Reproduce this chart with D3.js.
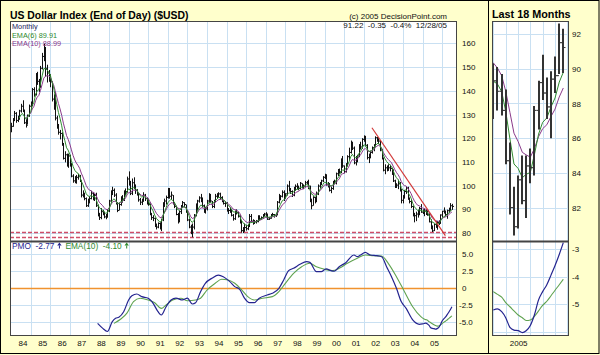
<!DOCTYPE html>
<html>
<head>
<meta charset="utf-8">
<script src="https://cdn.jsdelivr.net/npm/d3@7/dist/d3.min.js"></script>
<style>
  html, body { margin:0; padding:0; background:#ffffcc; }
  svg { display:block; }
  text { font-family: "Liberation Sans", Arial, sans-serif; }
</style>
</head>
<body>
<svg id="chart" width="600" height="355"></svg>
<script>
// ---------------- DATA ----------------
// Monthly bars, first bar = June 1983, last bar = December 2005
const firstBar = "1983-06";
const closes = [
  125.0,127.8,130.5,127.5,128.2,131.5,133.5,
  131.8,126.5,125.5,129.5,133.5,134.0,140.5,138.5,146.5,144.0,141.5,149.5,
  154.5,157.0,149.5,147.5,146.0,143.8,136.5,136.0,128.5,125.0,122.5,122.0,
  117.5,111.5,113.0,108.5,112.5,108.5,104.0,102.0,102.5,103.5,104.0,102.0,
  96.0,96.5,94.5,91.5,93.5,94.5,96.8,94.5,95.8,91.5,87.5,86.5,
  89.0,88.5,86.8,86.8,89.3,93.5,97.2,98.0,96.0,92.5,89.5,92.0,
  94.8,94.0,97.5,97.5,102.8,101.5,96.8,101.2,99.5,98.0,96.5,94.0,
  93.0,93.5,96.0,94.5,93.0,92.0,88.0,86.5,86.2,83.0,82.5,84.0,
  82.5,85.5,92.5,93.5,95.0,98.0,95.5,96.0,92.5,91.2,87.8,85.8,
  89.0,91.0,92.8,92.0,89.5,85.5,82.5,80.0,82.5,87.5,91.5,93.5,
  94.8,94.5,91.5,89.0,90.2,93.5,96.0,93.5,91.2,93.5,95.5,96.2,
  96.5,95.0,93.5,92.5,92.5,89.8,89.5,89.6,87.5,86.0,88.8,88.7,
  87.0,84.8,81.0,81.5,82.3,81.8,82.8,87.0,85.0,84.5,84.8,84.8,
  86.8,86.0,86.5,87.5,88.0,88.0,85.8,86.2,87.6,87.8,87.5,87.7,
  93.0,95.0,95.5,97.2,94.8,96.5,99.8,98.5,97.5,96.0,98.8,99.7,
  99.5,98.8,101.0,99.3,99.8,101.2,101.5,99.8,93.8,91.5,95.0,94.2,
  96.5,99.8,100.8,102.0,103.5,104.2,100.3,100.8,98.0,98.8,101.5,101.9,
  105.0,106.2,105.8,111.0,108.3,106.0,108.5,112.2,114.0,117.5,115.8,109.6,
  110.8,112.5,117.2,116.3,119.5,120.5,117.0,111.8,112.0,114.0,116.0,116.8,
  120.2,119.6,118.8,115.0,111.5,106.5,107.5,107.2,107.5,107.2,106.5,102.0,
  100.0,100.2,100.8,98.2,93.8,95.2,97.5,99.0,94.5,93.3,91.2,87.4,
  87.3,88.0,88.0,90.3,88.8,88.7,89.3,88.7,87.6,84.7,82.0,80.9,
  83.6,82.4,84.4,84.3,87.6,89.2,88.6,87.8,89.4,89.6,91.5,91.22
];
const highs = [
  126.5,128.5,131.5,131.0,129.5,132.0,134.5,
  136.0,132.0,128.0,130.0,134.2,135.5,141.2,141.5,147.5,148.0,145.0,150.5,
  156.0,159.8,158.5,151.0,148.8,147.0,144.0,138.5,139.5,129.5,126.0,123.5,
  122.5,118.0,114.5,113.5,113.5,113.0,109.5,104.8,104.0,104.5,105.0,104.5,
  102.0,98.0,97.0,95.0,94.5,95.5,97.8,97.2,96.5,97.0,92.0,88.5,
  90.5,89.8,89.0,88.0,90.0,94.0,98.0,99.5,98.8,96.8,93.0,92.8,
  95.5,96.0,98.0,98.8,103.8,106.0,102.0,103.0,103.5,100.5,98.5,96.8,
  94.8,94.5,97.2,96.5,95.0,94.5,92.5,88.5,87.5,86.5,84.0,84.5,
  84.5,86.0,93.0,94.5,95.8,99.0,99.0,97.5,96.0,93.0,91.5,88.5,
  89.5,91.8,93.5,93.0,92.0,89.5,86.0,83.5,84.0,88.0,92.5,94.0,
  95.5,96.5,95.0,92.0,91.0,94.0,96.8,96.5,93.5,94.0,96.5,96.8,
  97.2,97.0,95.5,94.0,93.5,93.0,90.5,90.8,90.0,88.0,89.5,90.0,
  89.0,87.5,85.5,82.5,84.0,83.5,83.5,88.0,88.0,85.8,85.5,85.5,
  87.5,87.5,87.0,88.0,88.5,88.8,88.0,86.8,88.0,88.5,88.0,88.5,
  93.5,96.5,96.0,98.0,98.0,96.8,100.5,102.0,99.0,98.0,99.5,100.5,
  101.0,100.0,101.5,101.0,100.5,102.0,102.0,102.5,100.0,94.5,95.5,95.2,
  97.5,100.5,101.5,102.5,104.0,105.0,104.8,101.5,101.0,99.5,102.0,102.5,
  105.5,107.0,107.2,111.5,112.5,108.5,109.5,112.8,116.0,119.0,118.5,116.5,
  112.5,113.0,117.5,118.5,120.0,121.2,121.0,117.5,113.5,114.8,116.5,117.5,
  120.8,120.5,120.0,119.2,115.5,111.8,109.0,108.5,109.0,108.8,107.5,106.8,
  102.5,101.0,102.5,101.5,98.5,96.0,98.2,99.5,99.5,95.0,94.0,91.5,
  88.5,89.0,89.8,91.0,92.2,90.0,90.3,90.1,89.7,88.8,85.75,83.2,
  83.85,85.0,85.0,85.4,87.85,89.3,90.8,89.5,89.85,90.7,92.6,92.3
];
const lows = [
  122.5,124.8,127.2,126.5,126.8,127.8,130.8,
  131.0,126.0,124.5,125.8,129.0,131.8,133.5,137.5,138.0,142.5,139.5,141.5,
  149.0,152.5,146.0,143.5,143.8,141.5,135.5,132.0,127.5,124.0,121.5,119.5,
  116.8,111.0,109.8,108.0,107.5,108.0,103.5,101.2,101.0,100.8,102.5,101.5,
  95.0,95.0,93.8,91.0,91.0,92.5,94.2,93.8,93.5,91.0,87.0,85.5,
  85.8,87.5,86.2,85.8,86.5,88.8,92.8,96.0,95.2,92.0,88.8,89.5,
  91.5,92.8,93.5,96.0,97.0,100.0,96.0,96.0,98.5,96.5,95.8,93.2,
  91.8,91.8,93.2,93.5,92.0,91.5,87.5,85.5,85.0,82.5,81.5,82.0,
  81.5,80.8,85.0,91.0,92.0,94.5,94.5,94.0,92.0,90.5,87.5,84.0,
  84.5,88.0,90.5,90.8,88.5,85.0,82.0,79.5,78.2,81.5,87.0,89.5,
  92.8,93.0,90.8,88.5,88.2,89.5,92.5,92.8,90.5,90.5,93.0,94.5,
  95.0,94.0,93.0,92.0,91.0,89.0,88.0,88.5,87.0,85.2,85.5,87.8,
  86.5,84.0,80.2,80.0,80.5,81.0,81.2,82.5,84.5,83.5,83.8,84.0,
  84.5,85.2,85.5,86.0,87.0,87.2,85.5,85.5,86.0,87.0,86.5,86.8,
  87.5,92.5,93.8,95.0,93.5,94.5,95.8,97.5,96.5,95.2,95.5,97.8,
  98.5,98.0,98.5,98.8,98.5,99.5,100.5,98.5,93.0,90.0,91.5,92.5,
  93.0,96.0,99.0,100.2,101.5,102.8,100.0,99.2,97.5,96.8,98.2,100.8,
  100.5,104.0,105.0,105.2,107.5,105.2,105.5,108.0,110.5,113.5,115.0,109.0,
  108.5,109.8,112.0,115.2,115.5,118.5,116.5,111.0,109.5,111.5,113.5,114.5,
  116.5,118.5,117.5,114.5,111.0,106.0,104.8,106.0,106.2,106.0,104.5,101.5,
  99.0,99.0,98.5,97.5,92.5,92.5,94.5,96.5,94.0,92.5,90.5,87.0,
  84.5,85.0,86.5,87.5,88.5,88.0,87.1,87.6,87.3,84.5,81.6,80.4,
  80.8,82.2,81.4,83.4,83.85,86.5,88.2,87.1,86.0,88.6,89.7,89.75
];
// opens of the last 18 bars (Jul 2004 - Dec 2005), shown in the side panel
const recentOpens = [88.8,89.3,88.7,87.6,84.7,82.0,80.9,83.6,82.4,84.4,84.3,87.6,89.2,88.6,87.8,89.4,89.6,91.5];

// PMO and its EMA(10) signal
const pmoPoints = [
  ["1987-11",-5.2],["1988-02",-5.9],["1988-05",-6.4],["1988-08",-4.95],["1988-10",-4.46],["1988-12",-4.3],
  ["1989-03",-3.5],["1989-06",-1.76],["1989-08",-1.13],["1989-11",-0.88],["1990-02",-1.27],["1990-06",-1.5],
  ["1990-09",-2.25],["1990-12",-3.48],["1991-02",-3.97],["1991-05",-2.75],["1991-08",-1.76],["1991-11",-1.5],
  ["1992-03",-1.76],["1992-06",-1.5],["1992-09",-2.35],["1992-11",-2.16],["1993-02",-0.54],["1993-05",0.69],
  ["1993-09",1.43],["1994-01",1.9],["1994-04",1.66],["1994-08",0.93],["1994-11",0.2],["1995-02",-0.2],
  ["1995-05",-1.5],["1995-08",-2.16],["1995-11",-2.16],["1996-02",-1.5],["1996-07",-1.03],["1996-10",-0.78],
  ["1997-02",-0.05],["1997-05",1.18],["1997-08",2.55],["1997-11",2.9],["1998-03",3.48],["1998-07",3.87],
  ["1998-09",3.77],["1999-01",2.4],["1999-04",2.4],["1999-07",2.8],["1999-10",2.55],["1999-12",2.46],
  ["2000-03",3.13],["2000-07",3.72],["2000-12",4.85],["2001-02",4.6],["2001-04",4.85],["2001-07",5.25],
  ["2001-10",4.85],["2002-02",4.75],["2002-05",4.6],["2002-08",3.13],["2002-11",1.66],["2003-02",-0.05],
  ["2003-05",-2.0],["2003-08",-3.0],["2003-12",-4.7],["2004-04",-5.34],
  ["2004-07",-5.22],["2004-08",-5.18],["2004-09",-5.28],["2004-10",-5.5],["2004-11",-5.85],["2004-12",-5.95],
  ["2005-01",-5.97],["2005-02",-6.04],["2005-03",-5.97],["2005-04",-5.78],["2005-05",-5.4],["2005-06",-4.85],
  ["2005-07",-4.55],["2005-08",-4.3],["2005-09",-3.95],["2005-10",-3.6],["2005-11",-3.2],["2005-12",-2.77]
];
const signalPoints = [
  ["1988-09",-5.2],["1989-01",-4.6],["1989-05",-3.7],["1989-09",-2.0],["1990-01",-1.5],["1990-06",-1.76],
  ["1990-10",-2.16],["1991-02",-3.0],["1991-05",-2.5],["1991-09",-1.76],["1992-02",-1.5],["1992-06",-1.87],
  ["1992-11",-1.76],["1993-02",-1.5],["1993-06",-0.3],["1993-11",0.69],["1994-03",1.28],["1994-07",1.18],
  ["1994-11",0.69],["1995-03",-0.2],["1995-07",-1.27],["1995-11",-1.76],["1996-04",-1.5],["1996-10",-1.27],
  ["1997-02",-0.54],["1997-06",0.69],["1997-11",2.16],["1998-04",3.13],["1998-09",3.63],["1999-01",3.13],
  ["1999-06",2.75],["1999-11",2.55],["2000-03",2.9],["2000-08",3.63],["2001-02",4.37],["2001-07",4.85],
  ["2001-12",4.75],["2002-05",4.7],["2002-09",3.63],["2003-02",1.66],["2003-07",-0.54],["2003-12",-2.75],
  ["2004-05",-4.2],
  ["2004-07",-4.55],["2004-08",-4.65],["2004-09",-4.75],["2004-10",-4.95],["2004-11",-5.1],["2004-12",-5.25],
  ["2005-01",-5.4],["2005-02",-5.5],["2005-03",-5.6],["2005-04",-5.58],["2005-05",-5.45],["2005-06",-5.25],
  ["2005-07",-5.05],["2005-08",-4.9],["2005-09",-4.7],["2005-10",-4.5],["2005-11",-4.3],["2005-12",-4.1]
];

// annotations
const trendDates = ["2001-11","2005-08"];
const trendValues = [124.4, 78.9];
const supportLevels = [80.4, 78.2];

// tick labels
const priceTicks = [80,90,100,110,120,130,140,150,160];
const pmoTicks = [5,2.5,0,-2.5,-5];
const pmoTickLabels = ["5.0","2.5","0","-2.5","-5.0"];
const yearTicks = ["84","85","86","87","88","89","90","91","92","93","94","95","96","97","98","99","00","01","02","03","04","05"];
const sideTicks = [82,84,86,88,90,92];
const sidePmoTicks = [-3,-4,-5];
const sidePmoTickLabels = ["-3","-4","-5"];
const sideYearLabel = "2005";

// texts
const titleText = "US Dollar Index (End of Day) ($USD)";
const copyrightText = "(c) 2005 DecisionPoint.com";
const lastQuoteText = "91.22  -0.35  -0.4%  12/28/05";
const periodText = "Monthly";
const ema6Text = "EMA(6) 89.91";
const ema10Text = "EMA(10) 88.99";
const pmoText = "PMO  -2.77";
const sigText = "EMA(10)  -4.10";
const sideTitle = "Last 18 Months";

// ---------------- HELPERS ----------------
const parseYM = d3.timeParse("%Y-%m");
const start = parseYM(firstBar);
const dates = closes.map((_, i) => d3.timeMonth.offset(start, i));
const N = closes.length;

function ema(vals, n) {
  const k = 2 / (n + 1);
  const out = new Array(vals.length).fill(null);
  let prev = d3.mean(vals.slice(0, n));
  out[n - 1] = prev;
  for (let i = n; i < vals.length; i++) { prev = vals[i] * k + prev * (1 - k); out[i] = prev; }
  return out;
}
const ema6 = ema(closes, 6);
const ema10 = ema(closes, 10);

// ---------------- LAYOUT ----------------
const C = { bg:"#ffffcc", grid:"#c9e0f2", frame:"#444", bar:"#111", green:"#2f8a2f", purple:"#8a3a8a",
            pmo:"#24248f", sig:"#5fa24f", zero:"#f0922e", trend:"#d23a3a", support:"#cf4e68" };
const P = { x0:10, x1:457, y0:21, y1:241, y2:336 };
const S = { x0:492, x1:569 };

const xMain = d3.scaleTime().domain([new Date(1984,0,1), new Date(2005,0,1)]).range([22.5, 434]);
const yMain = d3.scaleLinear().domain([80,160]).range([233,43.4]);
const yPmo  = d3.scaleLinear().domain([-5,5]).range([322,254]);
const xSide = d3.scaleTime().domain([new Date(2004,6,1), new Date(2005,11,1)]).range([493.3,563.3]);
const ySide = d3.scaleLinear().domain([82,92]).range([207.6,34]);
const ySidePmo = d3.scaleLinear().domain([-5,-3]).range([304,249]);

const svg = d3.select("#chart");
svg.append("rect").attr("x",0).attr("y",0).attr("width",600).attr("height",355).attr("fill",C.bg);

const defs = svg.append("defs");
function clip(id, x0, y0, x1, y1) {
  defs.append("clipPath").attr("id", id).append("rect")
    .attr("x", x0).attr("y", y0).attr("width", x1 - x0).attr("height", y1 - y0);
}
clip("cMain", P.x0, P.y0, P.x1, P.y1);
clip("cPmo", P.x0, P.y1, P.x1, P.y2);
clip("cSide", S.x0, P.y0, S.x1, P.y1);
clip("cSidePmo", S.x0, P.y1, S.x1, P.y2);

// plot backgrounds
[[P.x0,P.y0,P.x1,P.y2],[S.x0,P.y0,S.x1,P.y2]].forEach(r => {
  svg.append("rect").attr("x",r[0]).attr("y",r[1]).attr("width",r[2]-r[0]).attr("height",r[3]-r[1]).attr("fill","#fff");
});

const crisp = v => Math.round(v) + 0.5;

// ---------------- GRIDS ----------------
const grid = svg.append("g").attr("stroke", C.grid).attr("stroke-width", 1);
const yearDates = yearTicks.map((_, i) => new Date(1984 + i, 0, 1));
const gridDates = yearTicks.map((_, i) => new Date(1984 + i, 5, 1));
gridDates.forEach(d => {
  const x = crisp(xMain(d));
  grid.append("line").attr("x1",x).attr("x2",x).attr("y1",P.y0).attr("y2",P.y2);
});
priceTicks.forEach(v => {
  const y = crisp(yMain(v));
  grid.append("line").attr("x1",P.x0).attr("x2",P.x1).attr("y1",y).attr("y2",y);
});
pmoTicks.filter(v => v !== 0).forEach(v => {
  const y = crisp(yPmo(v));
  grid.append("line").attr("x1",P.x0).attr("x2",P.x1).attr("y1",y).attr("y2",y);
});
// side grid
const sideGridDates = [new Date(2004,6,1),new Date(2004,9,1),new Date(2005,0,1),new Date(2005,3,1),new Date(2005,6,1),new Date(2005,9,1),new Date(2006,0,1)];
sideGridDates.forEach(d => {
  const x = crisp(xSide(d));
  if (x < S.x1) grid.append("line").attr("x1",x).attr("x2",x).attr("y1",P.y0).attr("y2",P.y2);
});
sideTicks.forEach(v => {
  const y = crisp(ySide(v));
  grid.append("line").attr("x1",S.x0).attr("x2",S.x1).attr("y1",y).attr("y2",y);
});
[-3,-4,-5,-6].forEach(v => {
  const y = crisp(ySidePmo(v));
  grid.append("line").attr("x1",S.x0).attr("x2",S.x1).attr("y1",y).attr("y2",y);
});

// ---------------- MAIN PRICE PANEL ----------------
const gMain = svg.append("g").attr("clip-path","url(#cMain)");
// support lines
supportLevels.forEach(v => {
  gMain.append("line").attr("x1",P.x0).attr("x2",P.x1)
    .attr("y1",crisp(yMain(v))).attr("y2",crisp(yMain(v)))
    .attr("stroke",C.support).attr("stroke-width",1.3).attr("stroke-dasharray","4,2");
});
// bars
const idx = d3.range(N);
gMain.append("g").selectAll("line").data(idx).join("line")
  .attr("x1", i => crisp(xMain(dates[i]))).attr("x2", i => crisp(xMain(dates[i])))
  .attr("y1", i => yMain(highs[i])).attr("y2", i => yMain(lows[i]))
  .attr("stroke", C.bar).attr("stroke-width", 1);
gMain.append("g").selectAll("line").data(idx).join("line")
  .attr("x1", i => crisp(xMain(dates[i]))).attr("x2", i => crisp(xMain(dates[i])) + 1.5)
  .attr("y1", i => yMain(closes[i])).attr("y2", i => yMain(closes[i]))
  .attr("stroke", C.bar).attr("stroke-width", 1);
// EMAs
function drawEma(g, arr, color, xs, ys, from) {
  const pts = idx.filter(i => arr[i] !== null && i >= from);
  g.append("path").attr("fill","none").attr("stroke",color).attr("stroke-width",1)
    .attr("d", d3.line().x(i => xs(dates[i])).y(i => ys(arr[i]))(pts));
}
drawEma(gMain, ema10, C.purple, xMain, yMain, 0);
drawEma(gMain, ema6, C.green, xMain, yMain, 0);
// trendline
gMain.append("line")
  .attr("x1", xMain(parseYM(trendDates[0]))).attr("y1", yMain(trendValues[0]))
  .attr("x2", xMain(parseYM(trendDates[1]))).attr("y2", yMain(trendValues[1]))
  .attr("stroke", C.trend).attr("stroke-width", 1.2);

// ---------------- MAIN PMO PANEL ----------------
const gPmo = svg.append("g").attr("clip-path","url(#cPmo)");
gPmo.append("line").attr("x1",P.x0).attr("x2",P.x1).attr("y1",crisp(yPmo(0))).attr("y2",crisp(yPmo(0)))
  .attr("stroke",C.zero).attr("stroke-width",1.3);
const pmoLine = (xs, ys) => d3.line().curve(d3.curveMonotoneX).x(d => xs(parseYM(d[0]))).y(d => ys(d[1]));
gPmo.append("path").attr("fill","none").attr("stroke",C.sig).attr("stroke-width",1.1).attr("d", pmoLine(xMain,yPmo)(signalPoints));
gPmo.append("path").attr("fill","none").attr("stroke",C.pmo).attr("stroke-width",1.2).attr("d", pmoLine(xMain,yPmo)(pmoPoints));

// ---------------- SIDE PANEL ----------------
const gSide = svg.append("g").attr("clip-path","url(#cSide)");
const recent = d3.range(N - 18, N);
drawEma(gSide, ema10, C.purple, xSide, ySide, N - 19);
drawEma(gSide, ema6, C.green, xSide, ySide, N - 19);
gSide.append("g").selectAll("line").data(recent).join("line")
  .attr("x1", i => Math.round(xSide(dates[i]))).attr("x2", i => Math.round(xSide(dates[i])))
  .attr("y1", i => ySide(highs[i])).attr("y2", i => ySide(lows[i]))
  .attr("stroke", "#333").attr("stroke-width", 2);
gSide.append("g").selectAll("line").data(recent).join("line")
  .attr("x1", i => Math.round(xSide(dates[i])) - 2.5).attr("x2", i => Math.round(xSide(dates[i])))
  .attr("y1", i => ySide(recentOpens[i - (N - 18)])).attr("y2", i => ySide(recentOpens[i - (N - 18)]))
  .attr("stroke", "#333").attr("stroke-width", 1);
gSide.append("g").selectAll("line").data(recent).join("line")
  .attr("x1", i => Math.round(xSide(dates[i]))).attr("x2", i => Math.round(xSide(dates[i])) + 2.5)
  .attr("y1", i => ySide(closes[i])).attr("y2", i => ySide(closes[i]))
  .attr("stroke", "#333").attr("stroke-width", 1);

const gSidePmo = svg.append("g").attr("clip-path","url(#cSidePmo)");
const recentCut = parseYM("2004-06");
gSidePmo.append("path").attr("fill","none").attr("stroke",C.sig).attr("stroke-width",1.1)
  .attr("d", pmoLine(xSide,ySidePmo)(signalPoints.filter(d => parseYM(d[0]) >= recentCut)));
gSidePmo.append("path").attr("fill","none").attr("stroke",C.pmo).attr("stroke-width",1.2)
  .attr("d", pmoLine(xSide,ySidePmo)(pmoPoints.filter(d => parseYM(d[0]) >= recentCut)));

// ---------------- FRAMES ----------------
const fr = svg.append("g").attr("fill","none").attr("stroke",C.frame);
fr.append("rect").attr("x",P.x0+0.5).attr("y",P.y0+0.5).attr("width",P.x1-P.x0-1).attr("height",P.y2-P.y0-1);
fr.append("line").attr("x1",P.x0).attr("x2",P.x1).attr("y1",P.y1+0.5).attr("y2",P.y1+0.5).attr("stroke-width",2);
fr.append("rect").attr("x",S.x0+0.5).attr("y",P.y0+0.5).attr("width",S.x1-S.x0-1).attr("height",P.y2-P.y0-1);
fr.append("line").attr("x1",S.x0).attr("x2",S.x1).attr("y1",P.y1+0.5).attr("y2",P.y1+0.5).attr("stroke-width",2);

// outer frame + divider
svg.append("rect").attr("x",0.5).attr("y",0.5).attr("width",598.5).attr("height",353).attr("fill","none").attr("stroke","#000");
svg.append("line").attr("x1",488.5).attr("x2",488.5).attr("y1",0).attr("y2",354).attr("stroke","#000");

// ---------------- AXES ----------------
const axFont = g => g.selectAll("text").attr("font-family","'Liberation Sans', Arial, sans-serif").attr("font-size","8px").attr("fill","#111");
const noDomain = g => g.select(".domain").remove();

svg.append("g").attr("transform",`translate(${P.x1},0)`)
  .call(d3.axisRight(yMain).tickValues(priceTicks).tickSize(0).tickPadding(5).tickFormat(d3.format("d")))
  .call(noDomain).call(axFont);

svg.append("g").attr("transform",`translate(${P.x1},0)`)
  .call(d3.axisRight(yPmo).tickValues(pmoTicks).tickSize(0).tickPadding(5).tickFormat((d,i) => pmoTickLabels[i]))
  .call(noDomain).call(axFont)
  .call(g => g.selectAll("text").attr("x", d => d < 0 ? 2 : 5));

svg.append("g").attr("transform",`translate(0,${P.y2})`)
  .call(d3.axisBottom(xMain).tickValues(yearDates).tickSize(0).tickPadding(4).tickFormat((d,i) => yearTicks[i]))
  .call(noDomain).call(axFont);

svg.append("g").attr("transform",`translate(${S.x1},0)`)
  .call(d3.axisRight(ySide).tickValues(sideTicks).tickSize(0).tickPadding(3).tickFormat(d3.format("d")))
  .call(noDomain).call(axFont);

svg.append("g").attr("transform",`translate(${S.x1},0)`)
  .call(d3.axisRight(ySidePmo).tickValues(sidePmoTicks).tickSize(0).tickPadding(3).tickFormat((d,i) => sidePmoTickLabels[i]))
  .call(noDomain).call(axFont);

svg.append("g").attr("transform",`translate(0,${P.y2})`)
  .call(d3.axisBottom(xSide).tickValues([new Date(2005,0,1)]).tickSize(0).tickPadding(4).tickFormat(() => sideYearLabel))
  .call(noDomain).call(axFont);

// ---------------- TEXTS ----------------
svg.append("text").attr("x",10).attr("y",19).attr("font-size","10.4px").attr("font-weight","bold").attr("fill","#000").text(titleText);
svg.append("text").attr("x",492).attr("y",17.5).attr("font-size","10.8px").attr("font-weight","bold").attr("fill","#000").text(sideTitle);
svg.append("text").attr("x",447).attr("y",18.5).attr("text-anchor","end").attr("font-size","8px").attr("fill","#111").text(copyrightText);
svg.append("text").attr("x",447).attr("y",28).attr("text-anchor","end").attr("font-size","8px").attr("fill","#111")
  .style("white-space","pre").text(lastQuoteText);
svg.append("text").attr("x",12).attr("y",29).attr("font-size","7.3px").attr("fill","#1a1a5a").text(periodText);
svg.append("text").attr("x",12).attr("y",37.5).attr("font-size","7.3px").attr("fill",C.green).text(ema6Text);
svg.append("text").attr("x",12).attr("y",46).attr("font-size","7.3px").attr("fill",C.purple).text(ema10Text);

function arrow(x, y, color) {
  svg.append("path").attr("d",`M${x},${y-6} L${x-2.2},${y-3} L${x+2.2},${y-3} Z`).attr("fill",color);
  svg.append("line").attr("x1",x).attr("x2",x).attr("y1",y-3).attr("y2",y).attr("stroke",color).attr("stroke-width",1);
}
const t1 = svg.append("text").attr("x",12).attr("y",248.5).attr("font-size","8.3px").attr("fill",C.pmo)
  .style("white-space","pre").text(pmoText);
const w1 = t1.node().getComputedTextLength();
arrow(12 + w1 + 5, 248.5, C.pmo);
const t2 = svg.append("text").attr("x",12 + w1 + 11).attr("y",248.5).attr("font-size","8.3px").attr("fill",C.green)
  .style("white-space","pre").text(sigText);
const w2 = t2.node().getComputedTextLength();
arrow(12 + w1 + 11 + w2 + 5, 248.5, C.green);
</script>
</body>
</html>
